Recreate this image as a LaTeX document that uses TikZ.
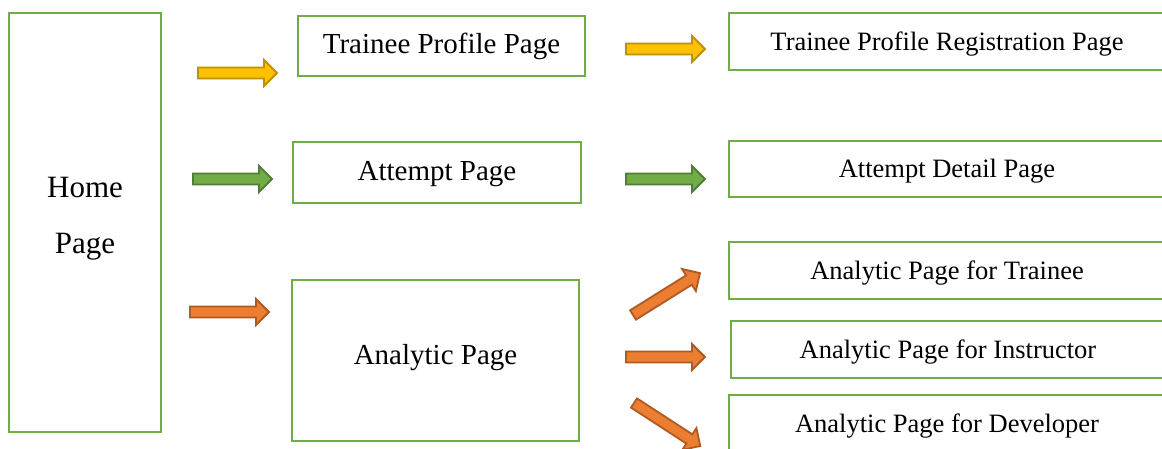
\documentclass[tikz,border=0pt]{standalone}
\usepackage{fontspec}
\setmainfont{Liberation Serif}
\definecolor{boxgreen}{HTML}{70AD47}
\definecolor{yfill}{HTML}{FFC000}
\definecolor{ydraw}{HTML}{BF9000}
\definecolor{gfill}{HTML}{70AD47}
\definecolor{gdraw}{HTML}{507E32}
\definecolor{ofill}{HTML}{ED7D31}
\definecolor{odraw}{HTML}{AE5A21}
\tikzset{
  pagebox/.style={draw=boxgreen, line width=2.5pt, fill=white, inner sep=0pt},
  bigtext/.style={font=\fontsize{29}{34}\selectfont, text height=21.8pt, text depth=6.3pt},
  smalltext/.style={font=\fontsize{26.5}{32}\selectfont, text height=23pt, text depth=5.75pt},
  hometext/.style={font=\fontsize{31}{56}\selectfont, align=center},
  rightbox/.style={pagebox, smalltext, minimum width=436pt, minimum height=57pt},
  midbox/.style={pagebox, bigtext, minimum width=287pt},
  blockarrow/.pic={\path[pic actions] (0,-5.5) -- (66,-5.5) -- (66,-13) -- (79,0) -- (66,13) -- (66,5.5) -- (0,5.5) -- cycle;},
  yarrow/.style={draw=ydraw, fill=yfill, line width=1.8pt, line join=miter},
  garrow/.style={draw=gdraw, fill=gfill, line width=1.8pt, line join=miter},
  oarrow/.style={draw=odraw, fill=ofill, line width=1.8pt, line join=miter}
}
\begin{document}
\begin{tikzpicture}[x=1pt, y=-1pt]
\useasboundingbox (0,0) rectangle (1162,449);
\clip (0,0) rectangle (1162,449);
% home
\node[pagebox, minimum width=152pt, minimum height=419pt] (home) at (85,222.5) {};
\node[hometext] (homelabel) at (85,219) {Home\\Page};
% middle column
\node[midbox, minimum height=60pt] (tpp) at (441.5,46) {Trainee Profile Page};
\node[midbox, minimum width=288pt, minimum height=61pt] (ap) at (437,172.5) {Attempt Page};
\node[midbox, minimum height=161pt, text depth=14.3pt] (anp) at (435.5,360.5) {Analytic Page};
% right column
\node[rightbox] (tpr) at (947,41.5) {Trainee Profile Registration Page};
\node[rightbox, minimum height=56pt] (adp) at (947,169) {Attempt Detail Page};
\node[rightbox] (at) at (947,270.5) {Analytic Page for Trainee};
\node[rightbox, minimum width=434pt] (ai) at (948,349.5) {Analytic Page for Instructor};
\node[rightbox] (ad) at (947,423.5) {Analytic Page for Developer};
% arrows
\pic[yarrow] (ya1) at (198,73) {blockarrow};
\pic[yarrow] (ya2) at (626,49) {blockarrow};
\pic[garrow] (ga1) at (193,179) {blockarrow};
\pic[garrow] (ga2) at (626,179) {blockarrow};
\pic[oarrow] (oa1) at (190,312) {blockarrow};
\pic[oarrow] (oa2) at (626,357) {blockarrow};
\pic[oarrow, rotate=32] (oa3) at (633,315) {blockarrow};
\pic[oarrow, rotate=-33] (oa4) at (634,403) {blockarrow};
\end{tikzpicture}
\end{document}
